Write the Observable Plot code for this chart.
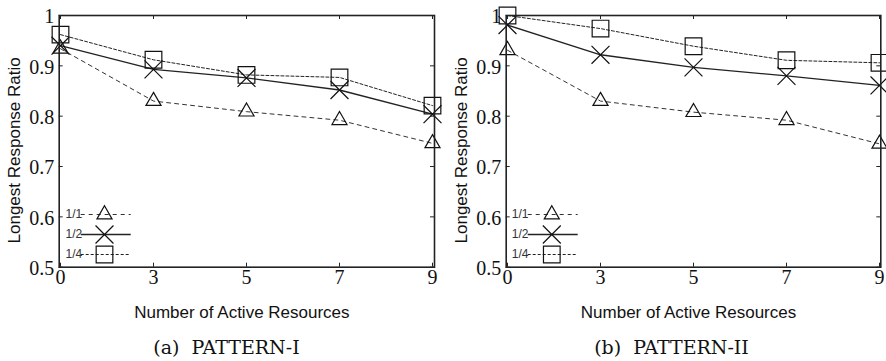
<!DOCTYPE html>
<html><head><meta charset="utf-8">
<script src="https://cdn.jsdelivr.net/npm/d3@7"></script>
<script src="https://cdn.jsdelivr.net/npm/@observablehq/plot@0.6"></script>
<style>
body{margin:0;background:#fff;}
#wrap{display:flex;width:886px;height:361px;overflow:hidden;}
</style></head><body><div id="wrap"></div>
<script>
// ---- data ----
const xVals = [0, 3, 5, 7, 9];
const seriesNames = ["1/1", "1/2", "1/4"];
const yTicks = [0.5, 0.6, 0.7, 0.8, 0.9, 1];

const p1_r11 = [0.934, 0.830, 0.809, 0.792, 0.746];
const p1_r12 = [0.940, 0.893, 0.876, 0.852, 0.804];
const p1_r14 = [0.962, 0.912, 0.882, 0.877, 0.821];

const p2_r11 = [0.931, 0.830, 0.808, 0.792, 0.745];
const p2_r12 = [0.981, 0.922, 0.897, 0.880, 0.861];
const p2_r14 = [1.000, 0.974, 0.939, 0.911, 0.906];

const yLabel = "Longest Response Ratio";
const xLabel = "Number of Active Resources";
const captions = ["(a)\u00a0\u00a0PATTERN-I", "(b)\u00a0\u00a0PATTERN-II"];

// ---- styles ----
const seriesStyle = {
  "1/1": {symbol: "triangle", r: 5.6, dash: "4,4", sw: 1, color: "#333"},
  "1/2": {symbol: "times", r: 8.2, dash: null, sw: 1.3, color: "#222"},
  "1/4": {symbol: "square", r: 9.4, dash: "3,2", sw: 1, color: "#222"}
};
const legendLine = {draw(ctx) { ctx.moveTo(-25, 0); ctx.lineTo(25, 0); }};
const legendDy = [-52.7, -32.7, -12.7];

function panel(series, cfg) {
  const W = 443, H = 361, mt = 15, mb = 94.3;
  const fw = W - cfg.ml - cfg.mr, fh = H - mt - mb;
  const marks = [];
  // ticks inward on all sides
  marks.push(Plot.tickY(yTicks, {y: d => d, insetRight: fw - 4, stroke: "#222", strokeWidth: 1}));
  marks.push(Plot.tickY(yTicks, {y: d => d, insetLeft: fw - 4, stroke: "#222", strokeWidth: 1}));
  marks.push(Plot.tickX(xVals, {x: d => d, insetTop: fh - 4, stroke: "#222", strokeWidth: 1}));
  marks.push(Plot.tickX(xVals, {x: d => d, insetBottom: fh - 4, stroke: "#222", strokeWidth: 1}));
  // series
  seriesNames.forEach((name, k) => {
    const st = seriesStyle[name];
    const rows = xVals.map((x, i) => ({x, y: series[k][i]}));
    marks.push(Plot.line(rows, {x: "x", y: "y", stroke: st.color, strokeWidth: st.sw, strokeDasharray: st.dash}));
  });
  seriesNames.forEach((name, k) => {
    const st = seriesStyle[name];
    const rows = xVals.map((x, i) => ({x, y: series[k][i]}));
    marks.push(Plot.dot(rows, {x: "x", y: "y", symbol: st.symbol, r: st.r, stroke: "#111", fill: "none", strokeWidth: 1.2}));
  });
  marks.push(Plot.frame({stroke: "#222", strokeWidth: 1.6}));
  // tick labels
  marks.push(Plot.text(yTicks, {y: d => d, text: d => String(d), frameAnchor: "left", dx: -5, dy: 1.5, textAnchor: "end",
    fontFamily: "Liberation Serif", fontSize: 20, fill: "#111"}));
  marks.push(Plot.text(xVals, {x: d => d, text: d => String(d), frameAnchor: "bottom", dy: 2.7, lineAnchor: "top",
    fontFamily: "Liberation Serif", fontSize: 20, fill: "#111"}));
  // axis labels
  marks.push(Plot.text([xLabel], {text: d => d, frameAnchor: "bottom", dx: -5, dy: 44.9, lineAnchor: "middle",
    textAnchor: "middle", fontFamily: "Liberation Sans", fontSize: 17, fill: "#111"}));
  marks.push(Plot.text([yLabel], {text: d => d, frameAnchor: "left", rotate: -90, dx: -39.2, dy: 9, lineAnchor: "bottom",
    textAnchor: "middle", fontFamily: "Liberation Sans", fontSize: 17, fill: "#111"}));
  // caption
  marks.push(Plot.text([cfg.caption], {text: d => d, frameAnchor: "bottom", dx: cfg.capDx, dy: 86.3, lineAnchor: "bottom",
    textAnchor: "middle", fontFamily: "DejaVu Serif", fontSize: 19, fill: "#111"}));
  // legend
  seriesNames.forEach((name, k) => {
    const st = seriesStyle[name];
    marks.push(Plot.dot([name], {frameAnchor: "bottom-left", dx: cfg.lgLine, dy: legendDy[k], symbol: legendLine,
      stroke: st.color, strokeWidth: st.sw, strokeDasharray: st.dash, fill: "none"}));
    marks.push(Plot.dot([name], {frameAnchor: "bottom-left", dx: cfg.lgMark, dy: legendDy[k], symbol: st.symbol, r: st.r,
      stroke: "#111", fill: "none", strokeWidth: 1.2}));
    marks.push(Plot.text([name], {text: d => d, frameAnchor: "bottom-left", dx: cfg.lgText, dy: legendDy[k], textAnchor: "start",
      lineAnchor: "middle", fontFamily: "Liberation Sans", fontSize: 12, fill: "#333"}));
  });
  return Plot.plot({
    width: W, height: H,
    marginTop: mt, marginBottom: mb, marginLeft: cfg.ml, marginRight: cfg.mr,
    x: {type: "point", domain: xVals, padding: 0, axis: null},
    y: {domain: [0.5, 1], axis: null},
    style: {background: "#fff", overflow: "hidden"},
    marks
  });
}

const wrap = document.getElementById("wrap");
wrap.appendChild(panel([p1_r11, p1_r12, p1_r14], {ml: 58.7, mr: 9, caption: captions[0], capDx: -20.4, lgText: 6.3, lgMark: 45.3, lgLine: 46.5}));
wrap.appendChild(panel([p2_r11, p2_r12, p2_r14], {ml: 62.7, mr: 5.7, caption: captions[1], capDx: -22, lgText: 5.6, lgMark: 45.6, lgLine: 46.5}));
</script>
</body></html>
